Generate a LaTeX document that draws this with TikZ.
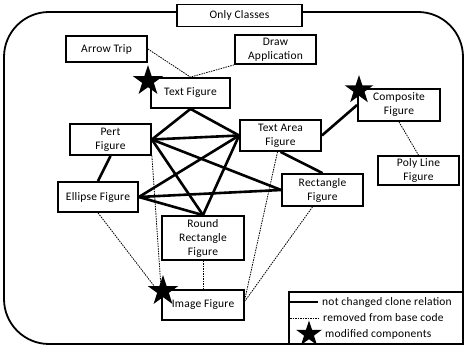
\documentclass[tikz,border=0pt]{standalone}
\usepackage{fontspec}
\setmainfont{Carlito}[LetterSpace=2]
\usetikzlibrary{shapes.geometric}

\begin{document}
\begin{tikzpicture}[%
x=1pt, y=-1pt,
cls/.style={draw, line width=1.8pt, fill=white, inner sep=0pt,
  minimum width=81pt, minimum height=30pt, align=center,
  font=\fontsize{11.5}{14}\selectfont},
clone/.style={line width=2.6pt},
removed/.style={line width=0.8pt, dash pattern=on 1.5pt off 1pt},
modstar/.style={star, star points=5, star point ratio=2.6, fill=black,
  inner sep=0pt, minimum size=32pt},
legtext/.style={anchor=west, inner sep=0pt, font=\fontsize{11.5}{12}\selectfont}
]
\useasboundingbox (0,0) rectangle (467,350);

% frame
\draw[line width=1.8pt, rounded corners=45pt] (4,12) rectangle (463,344);

% classes
\node[cls, minimum width=125pt, minimum height=22pt] (only) at (239.5,15.5) {Only Classes};
\node[cls, minimum height=26pt] (arrow) at (106.5,49) {Arrow Trip};
\node[cls, minimum height=29pt] (drawapp) at (275.5,49.5) {Draw\\Application};
\node[cls, minimum width=79pt] (textfig) at (190.5,93) {Text Figure};
\node[cls, minimum width=82pt, minimum height=32pt] (comp) at (399,105) {Composite\\Figure};
\node[cls, minimum height=31pt] (pert) at (110.5,139.5) {Pert\\Figure};
\node[cls, minimum height=31pt] (textarea) at (280.5,135.5) {Text Area\\Figure};
\node[cls, minimum height=29pt] (poly) at (418.5,170.5) {Poly Line\\Figure};
\node[cls, minimum width=80pt] (ellipse) at (98,197) {Ellipse Figure};
\node[cls, minimum height=32pt] (rect) at (322.5,190) {Rectangle\\Figure};
\node[cls, minimum width=82pt, minimum height=44pt] (rrect) at (203,238) {Round\\Rectangle\\Figure};
\node[cls, minimum width=82pt] (image) at (203,305) {Image Figure};

% not changed clone relation
\path[clone] (textfig.south) edge (pert.east);
\path[clone] (textfig.south) edge (textarea.west);
\path[clone] (pert.east) edge (textarea.west);
\path[clone] (pert.east) edge (rect.west);
\path[clone] (pert.east) edge (rrect.north);
\path[clone] (pert.south) edge (ellipse.north);
\path[clone] (ellipse.east) edge (textarea.west);
\path[clone] (ellipse.east) edge (rect.west);
\path[clone] (ellipse.east) edge (rrect.north);
\path[clone] (textarea.west) edge (rrect.north);
\path[clone] (textarea.south) edge (rect.north);
\path[clone] (textarea.east) edge (comp.west);

% removed from base code
\path[removed] (arrow.east) edge (textfig.north);
\path[removed] (drawapp.south west) edge (textfig.north);
\path[removed] (comp.south) edge (poly.north);
\path[removed] (pert.south east) edge (image.north west);
\path[removed] (ellipse.south) edge ([yshift=-6pt]image.north west);
\path[removed] (rrect.south) edge (image.north);
\path[removed] ([xshift=-3pt]textarea.south) edge ([yshift=-10pt]image.north east);
\path[removed] ([xshift=-10pt]rect.south) edge ([yshift=-12pt]image.north east);

% modified components
\node[modstar] (s1) at (148,81) {};
\node[modstar, minimum size=30pt] (s2) at (359,90) {};
\node[modstar] (s3) at (163,291) {};

% legend
\node[draw, line width=1.8pt, fill=white, minimum width=174pt, minimum height=52pt] (legend) at (376,318) {};
\coordinate (l1a) at (290,302);
\coordinate (l1b) at (318,302);
\coordinate (l2a) at (290,318);
\coordinate (l2b) at (318,318);
\draw[clone] (l1a) -- (l1b);
\draw[removed] (l2a) -- (l2b);
\node[modstar, minimum size=27pt] (s4) at (309,334) {};
\node[legtext] (t1) at (322,302) {not changed clone relation};
\node[legtext] (t2) at (323,318) {removed from base code};
\node[legtext] (t3) at (325,334) {modified components};
\end{tikzpicture}
\end{document}
